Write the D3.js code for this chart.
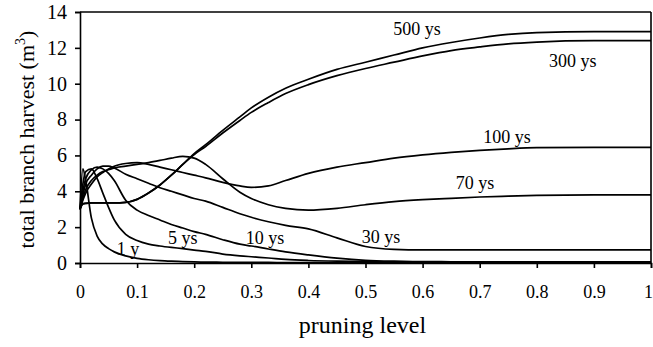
<!DOCTYPE html>
<html>
<head>
<meta charset="utf-8">
<script src="https://cdn.jsdelivr.net/npm/d3@7"></script>
<style>
  body { margin: 0; background: #fff; }
</style>
</head>
<body>
<div id="chart"></div>
<script>
// pruning level grid shared by every curve
const pruning = [0, 0.005, 0.01, 0.02, 0.03, 0.04, 0.05, 0.06, 0.08, 0.1, 0.12, 0.14, 0.16, 0.18, 0.2, 0.22,
                 0.25, 0.28, 0.3, 0.33, 0.36, 0.4, 0.45, 0.5, 0.55, 0.6, 0.65, 0.7, 0.75, 0.8, 0.9, 1]

const y1   = [3.0, 5.25, 4.6, 2.5, 1.5, 1.05, 0.8, 0.62, 0.4, 0.26, 0.18, 0.13, 0.1, 0.08, 0.06, 0.05,
              0.04, 0.03, 0.03, 0.03, 0.02, 0.02, 0.02, 0.02, 0.02, 0.02, 0.02, 0.02, 0.02, 0.02, 0.02, 0.02]
const y5   = [3.0, 4.4, 5.1, 5.25, 4.7, 3.9, 3.1, 2.4, 1.6, 1.25, 1.05, 0.95, 0.87, 0.8, 0.72, 0.65,
              0.5, 0.4, 0.35, 0.28, 0.2, 0.14, 0.1, 0.08, 0.06, 0.05, 0.05, 0.05, 0.05, 0.05, 0.05, 0.05]
const y10  = [3.0, 4.0, 4.7, 5.2, 5.35, 5.25, 5.0, 4.6, 3.5, 2.95, 2.65, 2.4, 2.15, 1.95, 1.75, 1.6,
              1.3, 1.05, 0.95, 0.78, 0.62, 0.45, 0.27, 0.15, 0.1, 0.08, 0.07, 0.07, 0.07, 0.07, 0.07, 0.07]
const y30  = [3.0, 3.8, 4.4, 4.9, 5.25, 5.4, 5.4, 5.3, 4.95, 4.7, 4.45, 4.2, 4.0, 3.8, 3.6, 3.45,
              3.1, 2.75, 2.55, 2.3, 2.1, 1.9, 1.4, 0.92, 0.76, 0.73, 0.73, 0.73, 0.73, 0.73, 0.73, 0.73]
const y70  = [3.0, 3.6, 4.1, 4.6, 4.9, 5.1, 5.2, 5.3, 5.4, 5.5, 5.6, 5.72, 5.85, 5.95, 5.85, 5.5,
              4.7, 3.95, 3.6, 3.25, 3.05, 2.95, 3.05, 3.25, 3.42, 3.53, 3.61, 3.68, 3.73, 3.77, 3.8, 3.8]
const y100 = [3.0, 3.5, 3.9, 4.4, 4.8, 5.05, 5.25, 5.4, 5.55, 5.6, 5.5, 5.35, 5.2, 5.05, 4.9, 4.75,
              4.5, 4.3, 4.22, 4.3, 4.6, 5.0, 5.35, 5.6, 5.85, 6.03, 6.17, 6.28, 6.37, 6.43, 6.45, 6.45]
const y300 = [3.0, 3.3, 3.33, 3.35, 3.35, 3.35, 3.35, 3.35, 3.38, 3.55, 3.9, 4.35, 4.9, 5.5, 6.05, 6.5,
              7.25, 7.95, 8.4, 8.95, 9.45, 9.95, 10.45, 10.85, 11.2, 11.55, 11.85, 12.05, 12.22, 12.32, 12.4, 12.4]
const y500 = [3.0, 3.3, 3.33, 3.35, 3.35, 3.35, 3.35, 3.35, 3.38, 3.55, 3.9, 4.35, 4.9, 5.5, 6.1, 6.6,
              7.4, 8.15, 8.65, 9.25, 9.75, 10.25, 10.8, 11.2, 11.6, 12.0, 12.3, 12.55, 12.75, 12.85, 12.9, 12.9]

const seriesNames = ["1 y", "5 ys", "10 ys", "30 ys", "70 ys", "100 ys", "300 ys", "500 ys"]
const seriesValues = [y1, y5, y10, y30, y70, y100, y300, y500]
// where each curve label sits, in data units
const labelX = [0.084, 0.18, 0.324, 0.527, 0.692, 0.748, 0.863, 0.59]
const labelY = [0.45, 1.06, 1.05, 1.1, 4.1, 6.7, 10.95, 12.7]

const xTicks = [0, 0.1, 0.2, 0.3, 0.4, 0.5, 0.6, 0.7, 0.8, 0.9, 1]
const yTicks = [0, 2, 4, 6, 8, 10, 12, 14]

const serif = "'Liberation Serif', 'Times New Roman', serif"

const margin = {top: 12, right: 2, bottom: 84, left: 80}
const width = 653 - margin.left - margin.right
const height = 347 - margin.top - margin.bottom

const svg = d3.select("#chart")
  .append("svg")
    .attr("width", 653)
    .attr("height", 347)
  .append("g")
    .attr("transform", `translate(${margin.left}, ${margin.top})`)

const x = d3.scaleLinear().domain([0, 1]).range([0, width])
const y = d3.scaleLinear().domain([0, 14]).range([height, 0])

// X axis
const xAxis = svg.append("g")
  .attr("transform", `translate(0, ${height})`)
  .attr("font-family", serif)
  .call(d3.axisBottom(x).tickValues(xTicks).tickSize(5).tickPadding(17).tickFormat(d3.format("")))
xAxis.selectAll("text")
  .style("font-family", serif)
  .style("font-size", "18px")
  .attr("dx", d => d === 1 ? -3 : 0)

// Y axis
const yAxis = svg.append("g")
  .attr("font-family", serif)
  .call(d3.axisLeft(y).tickValues(yTicks).tickSize(5).tickPadding(8))
yAxis.selectAll("text")
  .style("font-family", serif)
  .style("font-size", "20px")

svg.selectAll(".domain, .tick line").attr("stroke", "#000").attr("stroke-width", 1.6)

// frame top and right
svg.append("line").attr("x1", 0).attr("x2", width).attr("y1", 0).attr("y2", 0)
  .attr("stroke", "#000").attr("stroke-width", 1.6)
svg.append("line").attr("x1", width).attr("x2", width).attr("y1", 0).attr("y2", height)
  .attr("stroke", "#000").attr("stroke-width", 1.6)

// Curves
const line = d3.line()
  .x((d, i) => x(pruning[i]))
  .y(d => y(d))
  .curve(d3.curveMonotoneX)

svg.selectAll("path.curve")
  .data(seriesValues)
  .enter()
  .append("path")
    .attr("class", "curve")
    .attr("d", line)
    .attr("fill", "none")
    .attr("stroke", "#000")
    .attr("stroke-width", 1.7)

// curve labels
svg.selectAll("text.lab")
  .data(seriesNames)
  .enter()
  .append("text")
    .attr("class", "lab")
    .attr("x", (d, i) => x(labelX[i]))
    .attr("y", (d, i) => y(labelY[i]))
    .attr("text-anchor", "middle")
    .style("font-family", serif)
    .style("font-size", "18px")
    .text(d => d)

// axis titles
svg.append("text")
  .attr("x", width / 2 - 3)
  .attr("y", height + 70)
  .attr("text-anchor", "middle")
  .style("font-family", serif)
  .style("font-size", "24px")
  .text("pruning level")

const yTitle = svg.append("text")
  .attr("transform", `translate(-46, ${height / 2 + 2}) rotate(-90)`)
  .attr("text-anchor", "middle")
  .style("font-family", serif)
  .style("font-size", "22px")
yTitle.append("tspan").text("total branch harvest (m")
yTitle.append("tspan").attr("dy", -9).style("font-size", "14px").text("3")
yTitle.append("tspan").attr("dy", 9).text(")")
</script>
</body>
</html>
